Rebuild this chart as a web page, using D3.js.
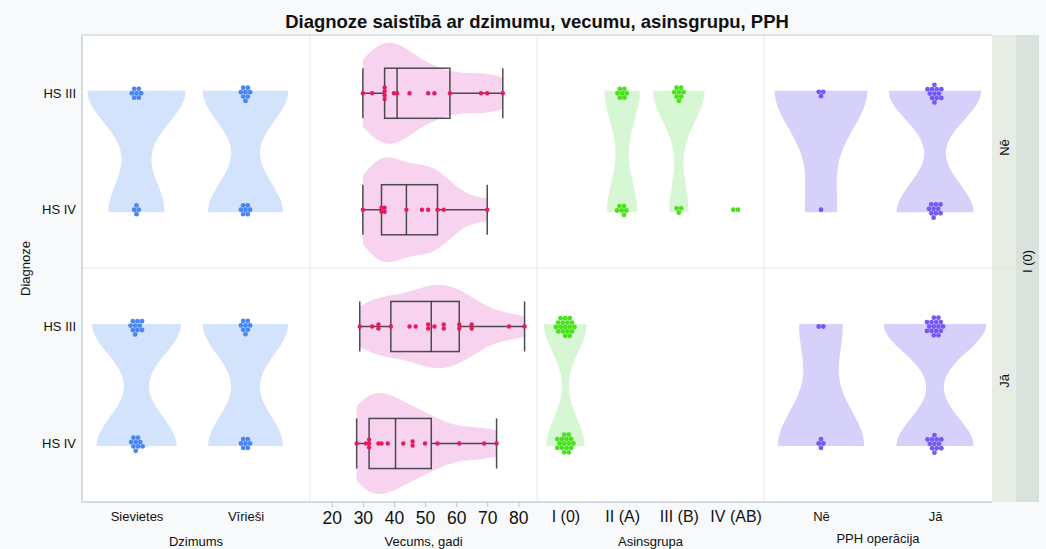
<!DOCTYPE html>
<html>
<head>
<meta charset="utf-8">
<script src="https://cdn.jsdelivr.net/npm/d3@7"></script>
<style>
  body { margin: 0; background: #f8f9fb; }
  svg text { font-family: "Liberation Sans", Arial, sans-serif; fill: #111; }
</style>
</head>
<body>
<svg id="chart" width="1046" height="549"></svg>
<script>
// ---- data -------------------------------------------------------------
const diagnoses = ["HS III", "HS IV"];
const rowLevels = ["Nē", "Jā"];            // row facets
const outerStrip = "I (0)";
const sexLevels = ["Sievietes", "Vīrieši"];
const bloodLevels = ["I (0)", "II (A)", "III (B)", "IV (AB)"];
const pphLevels = ["Nē", "Jā"];
const ageTicks = [20, 30, 40, 50, 60, 70, 80];

// patient counts per category: [HS III, HS IV]
const sexCountsNe = [[7, 4], [8, 7]];
const sexCountsJa = [[10, 9], [8, 7]];
const bloodCountsNe = [[0, 0], [7, 6], [8, 3], [0, 2]];
const bloodCountsJa = [[18, 16], [0, 0], [0, 0], [0, 0]];
const pphCountsNe = [[3, 1], [12, 10]];
const pphCountsJa = [[2, 4], [16, 12]];

// ages (years) per diagnosis
const ageNeHS3 = [30, 33, 37, 37, 37, 37, 40, 41, 45, 51, 53, 58, 68, 70, 75];
const ageNeHS4 = [30, 36, 36, 37, 37, 44, 49, 51, 54, 56, 70];
const ageJaHS3 = [29, 33, 35, 35, 39, 45, 47, 51, 51, 53, 56, 56, 61, 61, 65, 65, 77, 82];
const ageJaHS4 = [28, 31, 32, 32, 32, 35, 36, 38, 43, 46, 46, 50, 54, 61, 69, 73];

// ---- layout -----------------------------------------------------------
const W = 1046, H = 549;
const plotL = 82, plotR = 992, plotT = 35, plotB = 502;
const colEdges = [82, 310, 537, 764, 992];
const rowEdges = [35, 268, 502];
const strip1 = [992, 1016], strip2 = [1016, 1039];

const svg = d3.select("#chart");
svg.append("rect").attr("width", W).attr("height", H).attr("fill", "#f8f9fb");
svg.append("rect").attr("x", plotL).attr("y", plotT)
  .attr("width", plotR - plotL).attr("height", plotB - plotT).attr("fill", "#ffffff");

// grid separators
const grid = svg.append("g").attr("stroke", "#e3e8ed").attr("stroke-width", 1);
colEdges.slice(1, -1).forEach(x => grid.append("line")
  .attr("x1", x).attr("x2", x).attr("y1", plotT).attr("y2", plotB));
grid.append("line").attr("x1", plotL).attr("x2", plotR)
  .attr("y1", rowEdges[1]).attr("y2", rowEdges[1]);

// ---- helpers ----------------------------------------------------------
function kde(values, steps = 120) {
  const m = values.length;
  const sd = d3.deviation(values);
  const bw = 0.9 * sd * Math.pow(m, -0.2);
  const [lo, hi] = d3.extent(values);
  return d3.range(steps + 1).map(i => {
    const t = lo + (hi - lo) * i / steps;
    const dens = d3.sum(values, v => Math.exp(-0.5 * ((t - v) / bw) ** 2)) /
      (m * bw * Math.sqrt(2 * Math.PI));
    return [t, dens];
  });
}

function hinges(sorted) {
  const n = sorted.length;
  const half = Math.floor(n / 2);
  const lower = sorted.slice(0, half);
  const upper = sorted.slice(n % 2 ? half + 1 : half);
  return [d3.median(lower), d3.median(sorted), d3.median(upper)];
}

// offset-row cluster of n identical points: first ring in a fixed order,
// then further sites by distance (bottom first, counter-clockwise)
const firstRing = ["0,0", "1,0", "0.5,1", "0.5,-1", "-1,0", "-0.5,-1", "-0.5,1"];
function hexCluster(n, dx, dy) {
  const sites = [];
  for (let j = -6; j <= 6; j++) {
    for (let i = -6; i <= 6; i++) {
      const u = i + (Math.abs(j) % 2 ? 0.5 : 0);
      const v = j * 0.866;
      const ang = Math.atan2(v, u) * 180 / Math.PI;
      const key = firstRing.indexOf(`${u},${j}`);
      sites.push({
        x: u * dx, y: j * dy,
        rank: key >= 0 ? key : 100,
        r: Math.round(Math.hypot(u, v) * 100),
        a: (90 - ang + 720) % 360
      });
    }
  }
  sites.sort((p, q) => p.rank - q.rank || p.r - q.r || p.a - q.a);
  const pts = sites.slice(0, n);
  const cx = d3.mean(pts, p => p.x), cy = d3.mean(pts, p => p.y);
  return pts.map(p => [p.x - cx, p.y - cy]);
}

// violins run slightly past the category centres; dots sit on the centres
const violinY = r => d3.scalePoint().domain(diagnoses)
  .range([rowEdges[r], rowEdges[r + 1]]).padding(0.46);
const pointY = r => d3.scalePoint().domain(diagnoses)
  .range([rowEdges[r], rowEdges[r + 1]]).padding(0.5);

// ---- categorical columns --------------------------------------------
function categoricalColumn(levels, countsByRow, colors, xRange) {
  const x = d3.scalePoint().domain(levels).range(xRange).padding(0.5);
  const step = x.step();
  const violins = [];
  countsByRow.forEach((counts, r) => {
    counts.forEach((c, k) => {
      const vals = [].concat(d3.range(c[0]).map(() => 0), d3.range(c[1]).map(() => 1));
      violins.push({ r, k, c, vals, dens: (c[0] > 0 && c[1] > 0) ? kde(vals) : null });
    });
  });
  const maxD = d3.max(violins, v => v.dens ? d3.max(v.dens, d => d[1]) : 0);
  const wScale = d3.scaleLinear().domain([0, maxD]).range([0, 0.45 * step]);
  const g = svg.append("g");
  violins.forEach(v => {
    const y = violinY(v.r);
    const yNum = d3.scaleLinear().domain([0, 1]).range([y(diagnoses[0]), y(diagnoses[1])]);
    const cx = x(levels[v.k]);
    if (v.dens) {
      g.append("path").datum(v.dens)
        .attr("fill", colors.violin)
        .attr("d", d3.area().curve(d3.curveBasis)
          .y(d => yNum(d[0]))
          .x0(d => cx - wScale(d[1]))
          .x1(d => cx + wScale(d[1])));
    }
  });
  violins.forEach(v => {
    const y = pointY(v.r);
    const cx = x(levels[v.k]);
    v.c.forEach((count, di) => {
      if (!count) return;
      const cy = y(diagnoses[di]);
      g.selectAll(null).data(hexCluster(count, 4.6, 4.4)).enter().append("circle")
        .attr("cx", d => cx + d[0]).attr("cy", d => cy + d[1])
        .attr("r", 2.4).attr("fill", colors.dot);
    });
  });
  return x;
}

const sexX = categoricalColumn(sexLevels, [sexCountsNe, sexCountsJa],
  { violin: "#d2e3fb", dot: "#4a86f5" }, [82, 300]);
const bloodX = categoricalColumn(bloodLevels, [bloodCountsNe, bloodCountsJa],
  { violin: "#d7f6d3", dot: "#47e21a" }, [colEdges[2], colEdges[3]]);
const pphX = categoricalColumn(pphLevels, [pphCountsNe, pphCountsJa],
  { violin: "#d6d1fb", dot: "#7558f6" }, [colEdges[3], colEdges[4]]);

// ---- age column -------------------------------------------------------
const ageX = d3.scaleLinear().domain([13, 86]).range([colEdges[1], colEdges[2]]);
const ageGroups = [[ageNeHS3, ageNeHS4], [ageJaHS3, ageJaHS4]];
const ageViolins = [];
ageGroups.forEach((pair, r) => pair.forEach((vals, di) =>
  ageViolins.push({ r, di, vals: vals.slice().sort(d3.ascending), dens: kde(vals) })));
const ageMax = d3.max(ageViolins, v => d3.max(v.dens, d => d[1]));
const ageStep = pointY(0).step();
const ageW = d3.scaleLinear().domain([0, ageMax]).range([0, 0.45 * ageStep]);
const gAge = svg.append("g");
ageViolins.forEach(v => {
  const cy = pointY(v.r)(diagnoses[v.di]);
  gAge.append("path").datum(v.dens)
    .attr("fill", "#f7d3ef")
    .attr("d", d3.area().curve(d3.curveBasis)
      .x(d => ageX(d[0]))
      .y0(d => cy - ageW(d[1]))
      .y1(d => cy + ageW(d[1])));
});
ageViolins.forEach(v => {
  const cy = pointY(v.r)(diagnoses[v.di]);
  const [q1, med, q3] = hinges(v.vals);
  const [lo, hi] = d3.extent(v.vals);
  const bh = 0.215 * ageStep;
  const box = gAge.append("g").attr("stroke", "#2f2f2f").attr("stroke-opacity", 0.85)
    .attr("stroke-width", 1.5).attr("fill", "none");
  box.append("line").attr("x1", ageX(lo)).attr("x2", ageX(q1)).attr("y1", cy).attr("y2", cy);
  box.append("line").attr("x1", ageX(q3)).attr("x2", ageX(hi)).attr("y1", cy).attr("y2", cy);
  [lo, hi].forEach(e => box.append("line").attr("x1", ageX(e)).attr("x2", ageX(e))
    .attr("y1", cy - bh).attr("y2", cy + bh));
  box.append("rect").attr("x", ageX(q1)).attr("y", cy - bh)
    .attr("width", ageX(q3) - ageX(q1)).attr("height", 2 * bh);
  box.append("line").attr("x1", ageX(med)).attr("x2", ageX(med))
    .attr("y1", cy - bh).attr("y2", cy + bh);
  // stacked dots for equal ages
  d3.groups(v.vals, d => d).forEach(([val, arr]) => {
    arr.forEach((_, k) => {
      gAge.append("circle").attr("cx", ageX(val))
        .attr("cy", cy + (k - (arr.length - 1) / 2) * 3.9)
        .attr("r", 2.2).attr("fill", "#e8195f");
    });
  });
});

// ---- frame ------------------------------------------------------------
const frame = svg.append("g").attr("stroke", "#c6d0d7").attr("stroke-width", 1.5).attr("fill", "none");
frame.append("line").attr("x1", plotL).attr("x2", plotL).attr("y1", plotT).attr("y2", plotB);
frame.append("line").attr("x1", plotL).attr("x2", plotR).attr("y1", plotB).attr("y2", plotB);
frame.append("line").attr("x1", plotL).attr("x2", plotR).attr("y1", plotT).attr("y2", plotT)
  .attr("stroke", "#d3dbe1");

// ---- strips -----------------------------------------------------------
svg.append("rect").attr("x", strip1[0]).attr("y", plotT).attr("width", strip1[1] - strip1[0])
  .attr("height", plotB - plotT).attr("fill", "#e7ece5");
svg.append("line").attr("x1", strip1[0]).attr("x2", strip1[1]).attr("y1", rowEdges[1]).attr("y2", rowEdges[1])
  .attr("stroke", "#dfe5dc").attr("stroke-width", 1);
svg.append("rect").attr("x", strip2[0]).attr("y", plotT).attr("width", strip2[1] - strip2[0])
  .attr("height", plotB - plotT).attr("fill", "#d9e2dc");
rowLevels.forEach((lab, r) => {
  const cy = (rowEdges[r] + rowEdges[r + 1]) / 2 - 4;
  const cx = (strip1[0] + strip1[1]) / 2;
  svg.append("text").attr("transform", `translate(${cx},${cy}) rotate(-90)`)
    .attr("text-anchor", "middle").attr("dy", "0.35em").attr("font-size", 13).text(lab);
});
svg.append("text")
  .attr("transform", `translate(${(strip2[0] + strip2[1]) / 2},${(plotT + plotB) / 2 - 7}) rotate(-90)`)
  .attr("text-anchor", "middle").attr("dy", "0.35em").attr("font-size", 13).text(outerStrip);

// ---- axes -------------------------------------------------------------
rowLevels.forEach((_, r) => {
  const ax = svg.append("g").attr("transform", `translate(${plotL - 6},0)`)
    .call(d3.axisLeft(pointY(r)).tickSize(0).tickPadding(0));
  ax.select(".domain").remove();
  ax.selectAll("text").attr("font-size", 13).attr("fill", "#111");
});

function catAxis(scale, size, pad) {
  const ax = svg.append("g").attr("transform", `translate(0,${plotB})`)
    .call(d3.axisBottom(scale).tickSize(0).tickPadding(pad));
  ax.select(".domain").remove();
  ax.selectAll("text").attr("font-size", size).attr("fill", "#111");
}
catAxis(sexX, 13, 10);
catAxis(bloodX, 16, 9);
catAxis(pphX, 13, 10);

const ageAxis = svg.append("g").attr("transform", `translate(0,${plotB})`)
  .call(d3.axisBottom(ageX).tickValues(ageTicks).tickSize(5).tickPadding(5).tickFormat(d3.format("d")));
ageAxis.select(".domain").remove();
ageAxis.selectAll("line").attr("stroke", "#b8c2ca");
ageAxis.selectAll("text").attr("font-size", 17.5).attr("fill", "#111");

// axis titles
const titles = [
  ["Dzimums", (colEdges[0] + colEdges[1]) / 2, 546],
  ["Vecums, gadi", (colEdges[1] + colEdges[2]) / 2, 546],
  ["Asinsgrupa", (colEdges[2] + colEdges[3]) / 2, 546],
  ["PPH operācija", (colEdges[3] + colEdges[4]) / 2, 543]
];
titles.forEach(([t, x, y]) => svg.append("text").attr("x", x).attr("y", y)
  .attr("text-anchor", "middle").attr("font-size", 13).text(t));

svg.append("text").attr("transform", `translate(30,${(plotT + plotB) / 2}) rotate(-90)`)
  .attr("text-anchor", "middle").attr("font-size", 13).text("Diagnoze");

svg.append("text").attr("x", (plotL + plotR) / 2).attr("y", 28)
  .attr("text-anchor", "middle").attr("font-size", 18.5).attr("font-weight", "bold")
  .text("Diagnoze saistībā ar dzimumu, vecumu, asinsgrupu, PPH");
</script>
</body>
</html>
